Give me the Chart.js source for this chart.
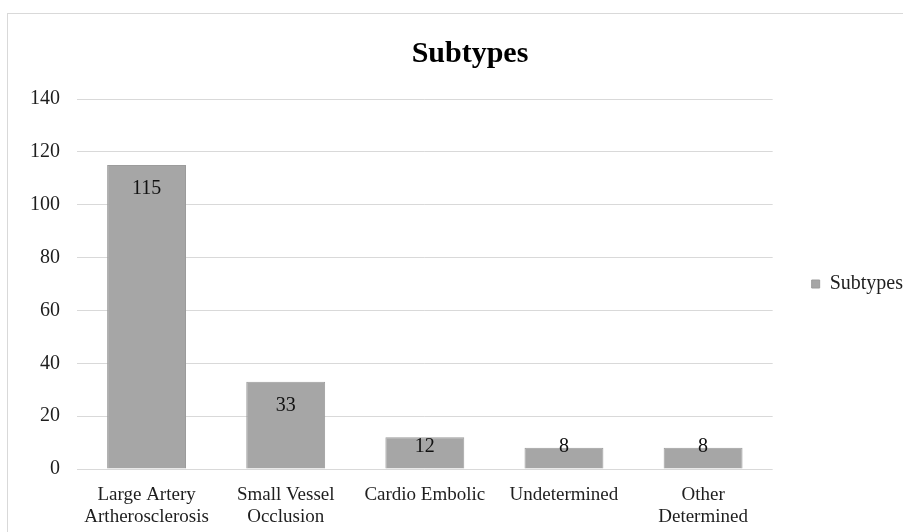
<!DOCTYPE html>
<html>
<head>
<meta charset="utf-8">
<title>Subtypes</title>
<script src="https://cdn.jsdelivr.net/npm/chart.js@4/dist/chart.umd.min.js"></script>
<style>
  html, body { margin: 0; padding: 0; background: #ffffff; overflow: hidden; width: 903px; height: 532px; }
  #frame { position: absolute; left: 7px; top: 13px; width: 924px; height: 540px; border: 1px solid #d9d9d9; background: #ffffff; }
  canvas { display: block; }
</style>
</head>
<body>
<div id="frame"><canvas id="chart" width="924" height="540"></canvas></div>
<script>
// Stroke subtype counts
const categories = [
  ['Large Artery', 'Artherosclerosis'],
  ['Small Vessel', 'Occlusion'],
  'Cardio Embolic',
  'Undetermined',
  ['Other', 'Determined']
];
const seriesName = 'Subtypes';
const counts = [115, 33, 12, 8, 8];
const yTicks = [0, 20, 40, 60, 80, 100, 120, 140];

const serif = "'Liberation Serif', 'Times New Roman', serif";
const barFill = '#a6a6a6';
const textColor = '#1e1e1e';

// Extra room on the right of the legend so the plot ends further left
const legendRoom = {
  id: 'legendRoom',
  beforeLayout(chart) {
    const lg = chart.legend;
    if (lg && !lg._roomAdded) {
      const fit = lg.fit.bind(lg);
      lg.fit = function () { fit(); this.width += 19; };
      lg._roomAdded = true;
    }
  }
};

// Value labels placed just inside the top of each bar
const valueLabels = {
  id: 'valueLabels',
  afterDatasetsDraw(chart) {
    const ctx = chart.ctx;
    const meta = chart.getDatasetMeta(0);
    const values = chart.data.datasets[0].data;
    ctx.save();
    ctx.font = '20px ' + serif;
    ctx.fillStyle = '#111111';
    ctx.textAlign = 'center';
    ctx.textBaseline = 'middle';
    meta.data.forEach((bar, i) => {
      const p = bar.getProps(['x', 'y', 'base'], true);
      const y = Math.min(p.y + 24, p.base - 22);
      ctx.fillText(String(values[i]), p.x, y);
    });
    ctx.restore();
  }
};

new Chart(document.getElementById('chart'), {
  type: 'bar',
  data: {
    labels: categories,
    datasets: [{
      label: seriesName,
      data: counts,
      backgroundColor: barFill,
      borderColor: '#9c9c9c',
      borderWidth: 1,
      barPercentage: 0.567,
      categoryPercentage: 1.0
    }]
  },
  options: {
    responsive: false,
    animation: false,
    layout: { padding: 0 },
    plugins: {
      title: {
        display: true,
        text: 'Subtypes',
        color: '#000000',
        font: { family: serif, size: 30, weight: 'bold', lineHeight: 1.2 },
        padding: { top: 22, bottom: 27 }
      },
      legend: {
        display: true,
        position: 'right',
        labels: {
          boxWidth: 8,
          boxHeight: 8,
          padding: 39,
          color: textColor,
          font: { family: serif, size: 20 }
        }
      },
      tooltip: { enabled: false }
    },
    scales: {
      x: {
        offset: true,
        grid: { display: false, drawTicks: false },
        border: { display: false },
        ticks: {
          color: textColor,
          font: { family: serif, size: 19, lineHeight: 1.16 },
          padding: 15,
          maxRotation: 0,
          autoSkip: false
        },
        afterFit(scale) { scale.height = 85; }
      },
      y: {
        min: 0,
        max: 140,
        grid: { color: '#d9d9d9', lineWidth: 1, drawTicks: false },
        border: { display: false },
        afterBuildTicks(scale) { scale.ticks = yTicks.map(v => ({ value: v })); },
        ticks: {
          color: textColor,
          font: { family: serif, size: 20 },
          padding: 17
        },
        afterFit(scale) { scale.width = 69; }
      }
    }
  },
  plugins: [legendRoom, valueLabels]
});
</script>
</body>
</html>
